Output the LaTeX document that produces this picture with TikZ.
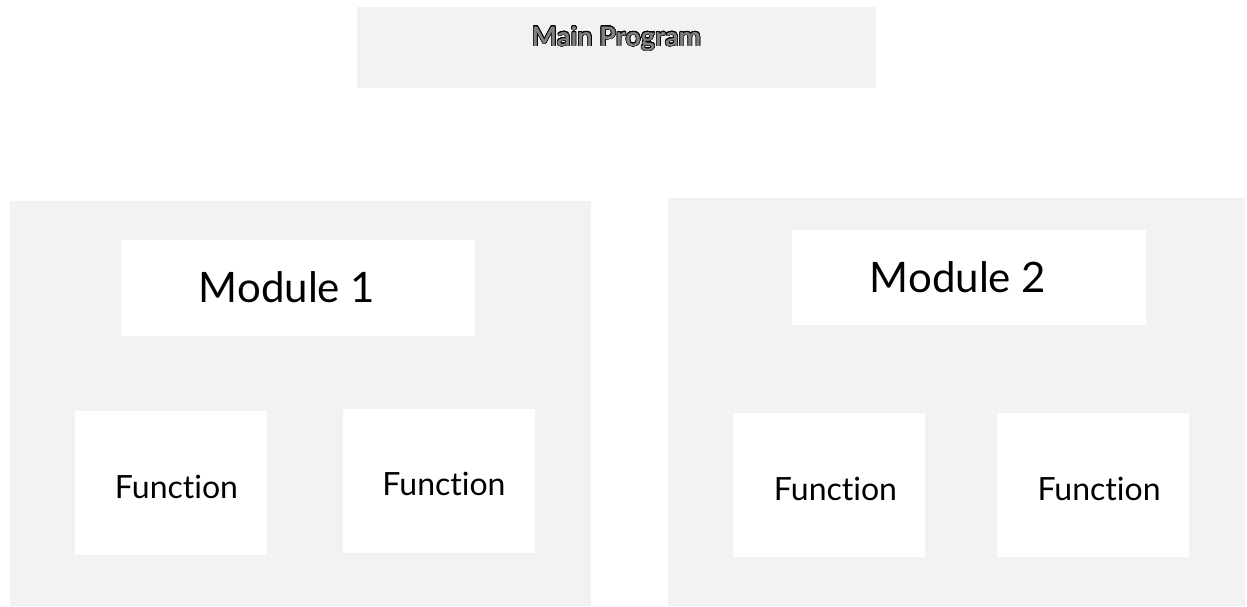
\documentclass[tikz,border=0pt]{standalone}
\usepackage{fontspec}
\setmainfont{Lato}[Ligatures=NoCommon]
\usepackage[copies]{contour}
\usepackage{tikz}

\definecolor{panelgray}{RGB}{242,242,242}
\definecolor{titlegray}{RGB}{128,128,128}
\contourlength{0.5pt}
\contournumber{24}

\begin{document}
\begin{tikzpicture}[x=1pt, y=-1pt, every node/.style={inner sep=0pt},
	panel/.style={fill=panelgray, anchor=north west},
	card/.style={fill=white, anchor=north west},
	modtext/.style={anchor=base, font=\fontsize{42}{50}\selectfont},
	funtext/.style={anchor=base, font=\fontsize{32}{38}\selectfont}]
	\useasboundingbox (0,0) rectangle (1247,606);
	% top box
	\node[panel, minimum width=519pt, minimum height=81pt] (main) at (357,7) {};
	\node[anchor=base, font=\fontsize{27}{32}\selectfont\bfseries] (maintext) at (616.5,46)
		{\contour{black}{\textcolor{titlegray}{Main Program}}};
	% module panels
	\node[panel, minimum width=581pt, minimum height=405pt] (mod1) at (10,201) {};
	\node[panel, minimum width=577pt, minimum height=408pt] (mod2) at (668,198) {};
	% module titles
	\node[card, minimum width=354pt, minimum height=96pt] (mod1head) at (121,240) {};
	\node[modtext] (mod1text) at (287,302) {Module 1};
	\node[card, minimum width=354pt, minimum height=95pt] (mod2head) at (792,230) {};
	\node[modtext] (mod2text) at (958,292) {Module 2};
	% functions
	\foreach \n/\x/\y/\tx/\ty in {1/75/411/176.5/498, 2/343/409/444/495, 3/733/413/835.5/500, 4/997/413/1099/500} {
		\node[card, minimum width=192pt, minimum height=144pt] (fun\n) at (\x,\y) {};
		\node[funtext] (fun\n text) at (\tx,\ty) {Function};
	}
\end{tikzpicture}
\end{document}
